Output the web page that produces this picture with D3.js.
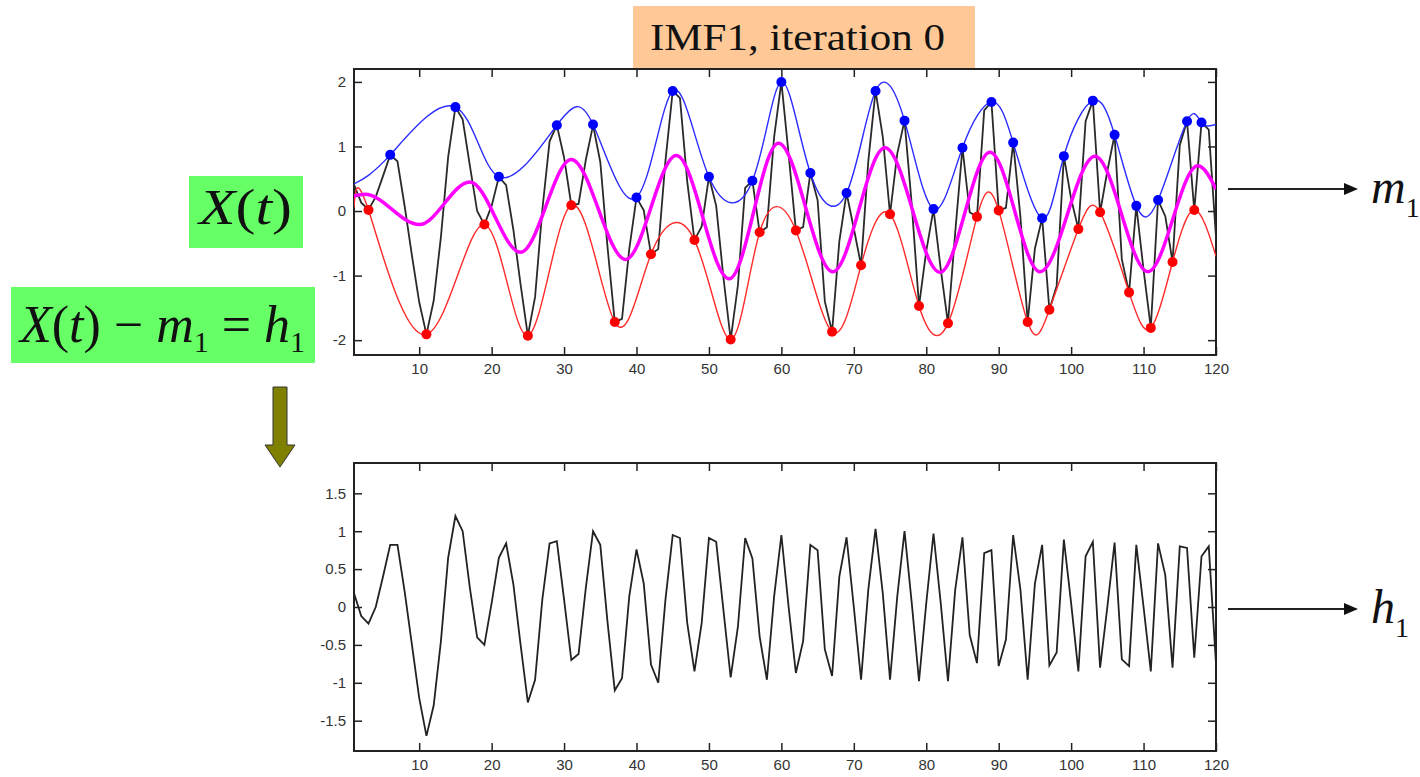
<!DOCTYPE html>
<html>
<head>
<meta charset="utf-8">
<script src="https://cdn.jsdelivr.net/npm/d3@7"></script>
<style>
  body { margin: 0; background: #fff; }
  svg { display: block; }
  .tick text { font-family: "Liberation Sans", Arial, sans-serif; font-size: 15px; fill: #333; }
</style>
</head>
<body>
<div id="chart"></div>
<script>
// sample index of the signal
const timeSteps = d3.range(1, 121);

// original signal X(t)
const signalX = [
  0.41, 0.13, 0.02, 0.22, 0.54, 0.87, 0.77, 0.07, -0.69, -1.41,
  -1.91, -1.39, -0.40, 0.84, 1.61, 1.42, 0.70, 0.00, -0.21, 0.08,
  0.53, 0.40, -0.29, -1.14, -1.93, -1.33, 0.02, 1.08, 1.33, 0.83,
  0.09, 0.11, 0.79, 1.33, 0.76, -0.56, -1.72, -1.67, -0.59, 0.21,
  0.01, -0.67, -0.59, 0.78, 1.86, 1.75, 0.46, -0.45, -0.24, 0.53,
  0.08, -1.03, -1.99, -1.15, 0.36, 0.47, -0.33, -0.25, 1.15, 2.00,
  0.88, -0.30, -0.25, 0.59, 0.17, -1.40, -1.87, -0.47, 0.28, -0.27,
  -0.84, 0.77, 1.86, 1.15, -0.05, 0.89, 1.40, 0.10, -1.47, -0.62,
  0.03, -0.90, -1.74, -0.33, 0.98, -0.02, -0.09, 1.56, 1.69, 0.01,
  0.05, 1.06, -0.09, -1.72, -0.58, -0.11, -1.53, -1.16, 0.85, 0.19,
  -0.28, 1.39, 1.71, -0.02, 0.62, 1.18, -0.75, -1.26, 0.08, -0.91,
  -1.81, 0.17, -0.08, -0.79, 1.02, 1.39, 0.01, 1.37, 1.26, -0.41
];

// h1 = X(t) - m1
const h1Values = [
  0.18, -0.12, -0.22, 0.00, 0.40, 0.82, 0.82, 0.20, -0.50, -1.20,
  -1.70, -1.30, -0.45, 0.65, 1.20, 1.00, 0.25, -0.40, -0.50, 0.05,
  0.65, 0.84, 0.30, -0.50, -1.26, -0.96, 0.10, 0.84, 0.87, 0.10,
  -0.70, -0.62, 0.25, 1.00, 0.82, -0.20, -1.10, -0.94, 0.14, 0.76,
  0.31, -0.76, -1.00, 0.10, 0.95, 0.91, -0.21, -0.85, -0.21, 0.91,
  0.86, -0.04, -0.93, -0.26, 0.91, 0.64, -0.39, -0.96, 0.14, 0.95,
  0.00, -0.87, -0.45, 0.82, 0.75, -0.56, -0.91, 0.40, 0.92, 0.00,
  -0.96, 0.23, 1.03, 0.18, -0.96, 0.14, 1.00, 0.05, -0.98, 0.05,
  0.97, 0.05, -0.98, 0.23, 0.92, -0.37, -0.74, 0.71, 0.75, -0.78,
  -0.43, 0.95, 0.23, -0.96, 0.31, 0.82, -0.77, -0.60, 0.89, 0.05,
  -0.85, 0.67, 0.86, -0.80, 0.00, 0.85, -0.69, -0.78, 0.82, 0.00,
  -0.85, 0.84, 0.42, -0.80, 0.80, 0.78, -0.67, 0.67, 0.80, -0.75
];

// local maxima (blue dots)
const maximaT = [6, 15, 21, 29, 34, 40, 45, 50, 56, 60, 64, 69, 73, 77, 81, 85, 89, 92, 96, 99, 103, 106, 109, 112, 116, 118];
const maximaV = [0.87, 1.61, 0.53, 1.33, 1.34, 0.21, 1.86, 0.53, 0.47, 2.00, 0.59, 0.28, 1.86, 1.40, 0.03, 0.98, 1.69, 1.06, -0.11, 0.85, 1.71, 1.18, 0.08, 0.17, 1.39, 1.37];

// local minima (red dots)
const minimaT = [3, 11, 19, 25, 31, 37, 42, 48, 53, 57, 62, 67, 71, 75, 79, 83, 87, 90, 94, 97, 101, 104, 108, 111, 114, 117];
const minimaV = [0.015, -1.91, -0.21, -1.93, 0.09, -1.72, -0.67, -0.45, -1.99, -0.33, -0.30, -1.87, -0.84, -0.05, -1.47, -1.74, -0.09, 0.01, -1.72, -1.53, -0.28, -0.02, -1.26, -1.81, -0.79, 0.015];

// envelope end values at t = 1 and t = 120
const upperEnds = [0.42, 1.34];
const lowerEnds = [0.05, -0.70];

// mean envelope m1 (magenta), turning points
const meanT = [1, 2.5, 10, 17, 24, 31, 38.5, 45.5, 52.8, 59.6, 67.1, 74.3, 81.9, 88.8, 95.7, 103.3, 110.6, 117.5, 120];
const meanV = [0.23, 0.26, -0.21, 0.45, -0.64, 0.80, -0.75, 0.86, -1.05, 1.05, -0.94, 0.98, -0.95, 0.91, -0.94, 0.85, -0.94, 0.70, 0.34];

const xTicks = [10, 20, 30, 40, 50, 60, 70, 80, 90, 100, 110, 120];
const topYTicks = [-2, -1, 0, 1, 2];
const bottomYTicks = [-1.5, -1, -0.5, 0, 0.5, 1, 1.5];

const W = 1420, H = 777;
const svg = d3.select("#chart").append("svg")
  .attr("width", W).attr("height", H)
  .style("background", "#fff");

const serif = '"Liberation Serif", "Times New Roman", serif';

// scales
const x = d3.scaleLinear().domain([1, 120]).range([354, 1216]);
const yTop = d3.scaleLinear().domain([-2.23, 2.2]).range([355, 69]);
const yBot = d3.scaleLinear().domain([-1.9, 1.9]).range([751, 463]);

// title box
svg.append("rect").attr("x", 633).attr("y", 6).attr("width", 342).attr("height", 64).attr("fill", "#fec996");
svg.append("text").attr("x", 650).attr("y", 50)
  .attr("textLength", 295).attr("lengthAdjust", "spacingAndGlyphs")
  .style("font-family", serif).style("font-size", "38px").attr("fill", "#111")
  .text("IMF1, iteration 0");

function drawPanel(yScale, yTicks, name) {
  const [x0, x1] = x.range();
  const [yb, yt] = yScale.range();
  const g = svg.append("g");

  g.append("clipPath").attr("id", "clip-" + name)
    .append("rect").attr("x", x0).attr("y", yt).attr("width", x1 - x0).attr("height", yb - yt);

  const fmt = d => String(d);
  g.append("g").attr("transform", `translate(0,${yb})`)
    .call(d3.axisBottom(x).tickValues(xTicks).tickSize(-8).tickPadding(8).tickFormat(fmt));
  g.append("g").attr("transform", `translate(0,${yt})`)
    .call(d3.axisTop(x).tickValues(xTicks).tickSize(-8).tickFormat(""));
  g.append("g").attr("transform", `translate(${x0},0)`)
    .call(d3.axisLeft(yScale).tickValues(yTicks).tickSize(-8).tickPadding(8).tickFormat(fmt));
  g.append("g").attr("transform", `translate(${x1},0)`)
    .call(d3.axisRight(yScale).tickValues(yTicks).tickSize(-8).tickFormat(""));
  g.selectAll(".domain").remove();
  g.selectAll(".tick line").attr("stroke", "#222").attr("stroke-width", 1.5);

  g.append("rect").attr("x", x0).attr("y", yt).attr("width", x1 - x0).attr("height", yb - yt)
    .attr("fill", "none").attr("stroke", "#222").attr("stroke-width", 2);

  return g.append("g").attr("clip-path", `url(#clip-${name})`);
}

// upper panel
const topPlot = drawPanel(yTop, topYTicks, "top");

const lineX = d3.line().x((d, i) => x(timeSteps[i])).y(d => yTop(d));
topPlot.append("path").datum(signalX).attr("d", lineX)
  .attr("fill", "none").attr("stroke", "#2a2a2a").attr("stroke-width", 1.8);

const upperPts = [[1, upperEnds[0]]].concat(maximaT.map((t, i) => [t, maximaV[i]]), [[120, upperEnds[1]]]);
const lowerPts = [[1, lowerEnds[0]]].concat(minimaT.map((t, i) => [t, minimaV[i]]), [[120, lowerEnds[1]]]);
const envLine = d3.line().x(d => x(d[0])).y(d => yTop(d[1])).curve(d3.curveNatural);

topPlot.append("path").datum(upperPts).attr("d", envLine)
  .attr("fill", "none").attr("stroke", "#2b2bff").attr("stroke-width", 1.4);
topPlot.append("path").datum(lowerPts).attr("d", envLine)
  .attr("fill", "none").attr("stroke", "#ff2a2a").attr("stroke-width", 1.4);

const meanLine = d3.line().x((t, i) => x(t)).y((t, i) => yTop(meanV[i])).curve(d3.curveMonotoneX);
topPlot.append("path").datum(meanT).attr("d", meanLine)
  .attr("fill", "none").attr("stroke", "#ff00ff").attr("stroke-width", 3.5);

topPlot.selectAll(".maxdot").data(maximaT).enter().append("circle")
  .attr("cx", d => x(d)).attr("cy", (d, i) => yTop(maximaV[i])).attr("r", 5)
  .attr("fill", "#0000ff");
topPlot.selectAll(".mindot").data(minimaT).enter().append("circle")
  .attr("cx", d => x(d)).attr("cy", (d, i) => yTop(minimaV[i])).attr("r", 5)
  .attr("fill", "#ff0000");

// lower panel
const botPlot = drawPanel(yBot, bottomYTicks, "bot");
const lineH = d3.line().x((d, i) => x(timeSteps[i])).y(d => yBot(d));
botPlot.append("path").datum(h1Values).attr("d", lineH)
  .attr("fill", "none").attr("stroke", "#222").attr("stroke-width", 1.8);

// green formula labels
svg.append("rect").attr("x", 189).attr("y", 176).attr("width", 114).attr("height", 72).attr("fill", "#66ff66");
const lab1 = svg.append("text").attr("x", 199).attr("y", 224)
  .attr("textLength", 93).attr("lengthAdjust", "spacingAndGlyphs")
  .style("font-family", serif).style("font-size", "50px").attr("fill", "#111");
lab1.append("tspan").style("font-style", "italic").text("X");
lab1.append("tspan").text("(");
lab1.append("tspan").style("font-style", "italic").text("t");
lab1.append("tspan").text(")");

svg.append("rect").attr("x", 11).attr("y", 287).attr("width", 304).attr("height", 76).attr("fill", "#66ff66");
const lab2 = svg.append("text").attr("x", 20).attr("y", 342)
  .style("font-family", serif).style("font-size", "52px").attr("fill", "#111");
lab2.append("tspan").style("font-style", "italic").text("X");
lab2.append("tspan").text("(");
lab2.append("tspan").style("font-style", "italic").text("t");
lab2.append("tspan").text(") \u2212 ");
lab2.append("tspan").style("font-style", "italic").text("m");
lab2.append("tspan").style("font-size", "30px").attr("dy", 10).text("1");
lab2.append("tspan").attr("dy", -10).text(" = ");
lab2.append("tspan").style("font-style", "italic").text("h");
lab2.append("tspan").style("font-size", "30px").attr("dy", 10).text("1");

// olive down arrow
svg.append("path")
  .attr("d", "M273,387 L287,387 L287,445 L295,445 L280,467 L265,445 L273,445 Z")
  .attr("fill", "#808000").attr("stroke", "#333").attr("stroke-width", 1);

// right-hand arrows with labels
function rightArrow(y, name) {
  svg.append("line").attr("x1", 1228).attr("x2", 1346).attr("y1", y).attr("y2", y)
    .attr("stroke", "#222").attr("stroke-width", 2);
  svg.append("path").attr("d", `M1344,${y - 6} L1358,${y} L1344,${y + 6} Z`).attr("fill", "#111");
  const t = svg.append("text").attr("x", 1371).attr("y", y + 14)
    .style("font-family", serif).style("font-size", "48px").attr("fill", "#111");
  t.append("tspan").style("font-style", "italic").text(name);
  t.append("tspan").style("font-size", "28px").attr("dy", 14).text("1");
}
rightArrow(189, "m");
rightArrow(609, "h");
</script>
</body>
</html>
